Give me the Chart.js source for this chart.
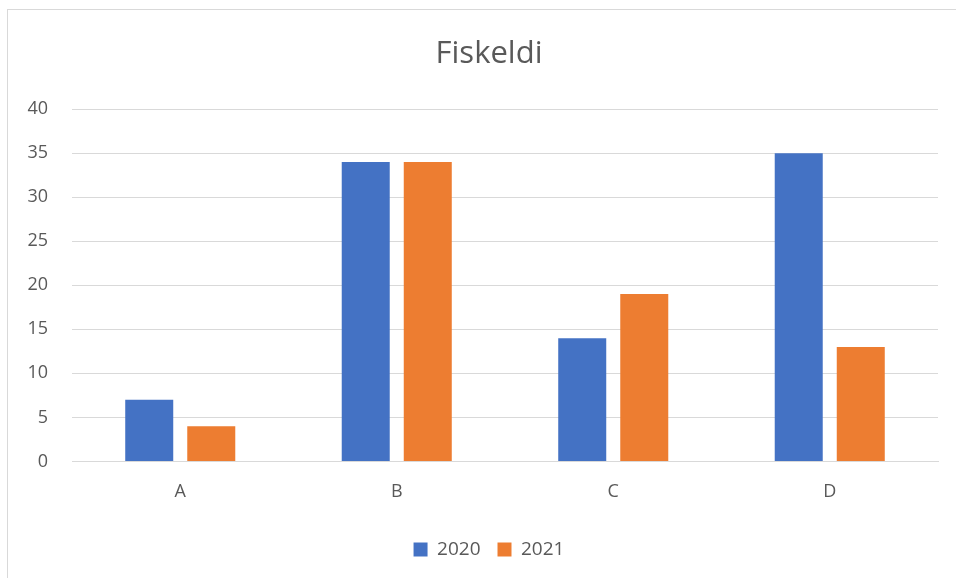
<!DOCTYPE html>
<html>
<head>
<meta charset="utf-8">
<script src="https://cdn.jsdelivr.net/npm/chart.js@4"></script>
<style>
  body { margin: 0; background: #fff; overflow: hidden; }
  .frame {
    position: absolute; left: 7px; top: 9px;
    width: 975px; height: 580px;
    border: 1.5px solid #d9d9d9; box-sizing: border-box;
  }
  .box { position: absolute; left: 8px; top: 10px; width: 962px; height: 568px; }
</style>
</head>
<body>
<div class="frame"></div>
<div class="box"><canvas id="myChart"></canvas></div>
<script>
//chart data
const categories = ["A", "B", "C", "D"];
const values2020 = [7, 34, 14, 35];
const values2021 = [4, 34, 19, 13];
const seriesNames = ["2020", "2021"];

const textColor = "#595959";
const fontFamily = "'Open Sans', 'Liberation Sans', sans-serif";

const ctx = document.getElementById("myChart");
const myChart = new Chart(ctx, {
    type: "bar",
    data: {
        labels: categories,
        datasets: [{
            label: seriesNames[0],
            data: values2020,
            backgroundColor: "#4472C4",
            categoryPercentage: 0.573,
            barPercentage: 0.774
        }, {
            label: seriesNames[1],
            data: values2021,
            backgroundColor: "#ED7D31",
            categoryPercentage: 0.573,
            barPercentage: 0.774
        }]
    },
    options: {
        responsive: true,
        maintainAspectRatio: false,
        animation: false,
        layout: { padding: { left: 0, right: 0, top: 0, bottom: 9 } },
        plugins: {
            title: {
                display: true,
                text: "Fiskeldi",
                color: textColor,
                font: { family: fontFamily, size: 31, weight: "normal" },
                padding: { top: 26, bottom: 36 }
            },
            legend: {
                position: "bottom",
                labels: {
                    color: textColor,
                    font: { family: fontFamily, size: 19 },
                    boxWidth: 14,
                    boxHeight: 14,
                    padding: 17
                }
            },
            tooltip: { enabled: false }
        },
        scales: {
            x: {
                grid: { display: false, drawTicks: false },
                border: { color: "#d9d9d9", width: 1 },
                ticks: { color: textColor, font: { family: fontFamily, size: 18 }, padding: 20 }
            },
            y: {
                min: 0,
                max: 40,
                afterFit: (scale) => { scale.width = 64; },
                grid: { color: "#d9d9d9", lineWidth: 1, drawTicks: false },
                border: { display: false },
                ticks: { stepSize: 5, color: textColor, font: { family: fontFamily, size: 18 }, padding: 24 }
            },
            //empty right axis, keeps the plot clear of the wider chart box
            yRight: {
                position: "right",
                min: 0,
                max: 40,
                afterFit: (scale) => { scale.width = 32; },
                grid: { display: false, drawTicks: false },
                border: { display: false },
                ticks: { display: false }
            }
        }
    }
});
</script>
</body>
</html>
